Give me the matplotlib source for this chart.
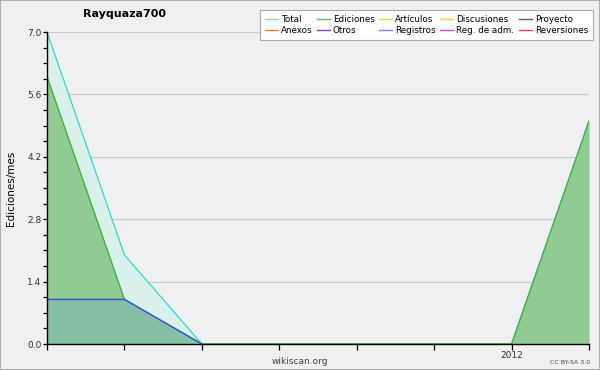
import matplotlib
matplotlib.use("Agg")
import matplotlib.pyplot as plt
from matplotlib.lines import Line2D
from matplotlib.patches import Rectangle
import numpy as np

# monthly data, Jul 2011 .. Feb 2012
months = ["2011-07", "2011-08", "2011-09", "2011-10", "2011-11", "2011-12", "2012-01", "2012-02"]
total = [7, 2, 0, 0, 0, 0, 0, 5]
ediciones = [6, 1, 0, 0, 0, 0, 0, 5]
registros = [1, 1, 0, 0, 0, 0, 0, 0]

legend_names = ["Total", "Ediciones", "Artículos", "Discusiones", "Proyecto",
                "Anexos", "Otros", "Registros", "Reg. de adm.", "Reversiones"]
legend_colors = ["#80e0e0", "#60c060", "#c0f040", "#ffd040", "#606060",
                 "#ff8040", "#8040e0", "#8080ff", "#e040e0", "#ff4040"]

fig = plt.figure(figsize=(6, 3.7), dpi=100, facecolor="#f0f0f0")
ax = fig.add_axes([47/600, 1 - 344/370, (589 - 47)/600, (344 - 32)/370])
ax.set_facecolor("#eff0f1")

x = np.arange(len(months))

ax.fill_between(x, 0, total, color="#d9f1ea", lw=0, zorder=2)
ax.plot(x, total, color="#30d8d0", lw=0.9, zorder=3)
ax.fill_between(x, 0, ediciones, color="#92ca94", lw=0, zorder=4)
ax.plot(x, ediciones, color="#3cb43c", lw=1.0, zorder=5)
reg_y = np.array(registros, dtype=float)
ax.fill_between(x, 0, reg_y, color="#86bfa3", lw=0, zorder=6)
ax.plot(x[:3], reg_y[:3], color="#3050e0", lw=1.0, zorder=7)

ax.set_xlim(0, len(months) - 1)
ax.set_ylim(0, 7)
ax.set_yticks(np.arange(0, 7.01, 1.4))
ax.set_yticklabels([f"{v:.1f}" for v in np.arange(0, 7.01, 1.4)])
ax.set_yticks(np.arange(0, 7.01, 0.35), minor=True)
ax.set_xticks(x)
ax.set_xticklabels(["2012" if m == "2012-01" else "" for m in months])

ax.yaxis.grid(True, color="#cccccc", lw=0.9)
ax.set_axisbelow(True)
for s in ["top", "right"]:
    ax.spines[s].set_visible(False)
for s in ["left", "bottom"]:
    ax.spines[s].set_color("black")
    ax.spines[s].set_linewidth(1.0)
    ax.spines[s].set_zorder(10)
ax.tick_params(axis="both", which="both", length=3, width=0.9, color="black",
               labelsize=6.5, labelcolor="#333333", pad=1)
ax.tick_params(axis="x", length=4)

ax.set_ylabel("Ediciones/mes", fontsize=7.5, labelpad=8)

fig.text(124/600, 1 - 14/370, "Rayquaza700", fontsize=8, fontweight="bold",
         ha="center", va="center")
fig.text(300/600, 1 - 361/370, "wikiscan.org", fontsize=6.5, color="#444444",
         ha="center", va="center")
fig.text(570/600, 1 - 362/370, "CC BY-SA 3.0", fontsize=4.5, color="#444444",
         ha="center", va="center")

handles = []
order = [0, 5, 1, 6, 2, 7, 3, 8, 4, 9]
for i in order:
    handles.append(Line2D([], [], color=legend_colors[i], lw=1))
labels = [legend_names[i] for i in order]
leg = fig.legend(handles, labels, ncol=5, loc="upper right",
                 bbox_to_anchor=(593/600, 1 - 10/370), fontsize=6.3,
                 frameon=True, fancybox=False, edgecolor="#aaaaaa",
                 facecolor="white", framealpha=1, handlelength=1.5,
                 handletextpad=0.35, columnspacing=0.5, labelspacing=0.3,
                 borderpad=0.55, borderaxespad=0)
leg.get_frame().set_linewidth(0.8)

fig.patches.append(Rectangle((0, 0), 1, 1, transform=fig.transFigure,
                             fill=False, edgecolor="#b0b0b0", lw=1.5))

fig.savefig("out.png", dpi=100, facecolor=fig.get_facecolor())
